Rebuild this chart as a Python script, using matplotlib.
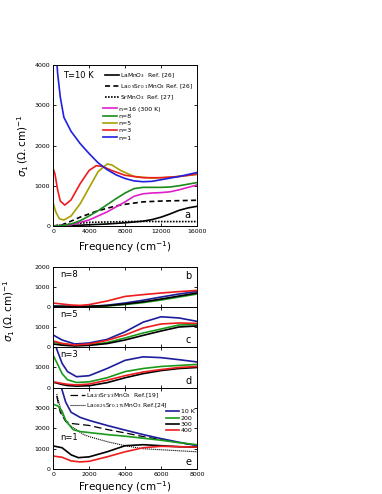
import numpy as np
import matplotlib.pyplot as plt

# ---- panel a: T = 10 K, 0-16000 cm-1
fa_n1 = [300, 500, 800, 1200, 2000, 3000, 4000, 5000, 6000, 7000, 8000, 9000, 10000, 11000, 12000, 13000, 14000, 15000, 16000]
sa_n1 = [4500, 3800, 3200, 2700, 2350, 2050, 1800, 1570, 1400, 1270, 1180, 1120, 1100, 1110, 1150, 1190, 1230, 1280, 1330]
fa_n3 = [0, 200, 500, 800, 1300, 2000, 3000, 4000, 4800, 5500, 6500, 8000, 10000, 12000, 14000, 16000]
sa_n3 = [1430, 1300, 900, 620, 520, 650, 1050, 1380, 1500, 1480, 1380, 1260, 1200, 1200, 1230, 1290]
fa_n5 = [0, 300, 700, 1200, 2000, 3000, 4000, 5000, 6000, 6500, 7500, 9000, 11000, 13000, 16000]
sa_n5 = [580, 350, 180, 150, 250, 550, 950, 1350, 1540, 1520, 1380, 1230, 1190, 1210, 1280]
fa_n8 = [0, 1000, 2000, 3000, 4000, 5000, 6000, 7000, 8000, 9000, 10000, 12000, 13000, 14000, 15000, 16000]
sa_n8 = [0, 10, 50, 130, 250, 380, 530, 680, 820, 930, 960, 960, 970, 1000, 1040, 1080]
fa_n16 = [0, 2000, 4000, 6000, 8000, 9000, 10000, 11000, 12000, 13000, 14000, 15000, 16000]
sa_n16 = [0, 30, 150, 350, 600, 740, 800, 820, 830, 850, 900, 960, 1020]
fa_lmo = [0, 2000, 4000, 6000, 8000, 10000, 11000, 12000, 13000, 14000, 15000, 16000]
sa_lmo = [0, 10, 30, 50, 80, 120, 160, 220, 300, 390, 450, 490]
fa_lsmo = [0, 1000, 2000, 3000, 4000, 5000, 6000, 7000, 8000, 9000, 10000, 12000, 14000, 16000]
sa_lsmo = [0, 30, 120, 220, 300, 380, 440, 500, 540, 570, 600, 620, 630, 640]
fa_smo = [0, 2000, 4000, 6000, 8000, 10000, 12000, 16000]
sa_smo = [0, 50, 90, 100, 110, 115, 110, 110]

# ---- panels b-e: temperature dependence, 0-8000 cm-1
temps = ["10 K", "200", "300", "400"]
tcolors = ["#1c1c9c", "#1a9a1a", "black", "#ee1c1c"]

fb = [0, 1000, 1500, 2000, 3000, 4000, 5000, 6000, 7000, 8000]
sb = {
    "10 K": [50, 30, 30, 30, 90, 200, 340, 500, 650, 780],
    "200": [20, 15, 15, 20, 50, 120, 220, 350, 500, 650],
    "300": [30, 25, 25, 30, 70, 150, 260, 400, 550, 700],
    "400": [200, 100, 80, 120, 300, 530, 620, 700, 770, 830],
}
fc = [0, 500, 1200, 2000, 3000, 4000, 5000, 6000, 7000, 8000]
sc = {
    "10 K": [600, 350, 150, 200, 380, 760, 1240, 1510, 1450, 1280],
    "200": [250, 150, 80, 110, 220, 450, 700, 900, 1100, 1120],
    "300": [150, 90, 50, 80, 170, 350, 580, 800, 1000, 1050],
    "400": [300, 180, 100, 150, 330, 600, 950, 1150, 1200, 1180],
}
fd = [0, 200, 500, 800, 1300, 2000, 3000, 4000, 5000, 6000, 7000, 8000]
sd = {
    "10 K": [2400, 1900, 1200, 800, 550, 600, 950, 1350, 1520, 1480, 1380, 1270],
    "200": [1600, 1250, 700, 400, 270, 300, 500, 800, 950, 1050, 1100, 1150],
    "300": [280, 240, 170, 120, 90, 110, 260, 500, 700, 850, 950, 1000],
    "400": [300, 270, 220, 180, 150, 190, 380, 600, 780, 900, 1000, 1050],
}
fe = {
    "10 K": [400, 500, 700, 1000, 1500, 2000, 3000, 4000, 5000, 6000, 7000, 8000],
    "200": [0, 300, 500, 700, 1100, 1500, 2000, 3000, 4000, 5000, 6000, 7000, 8000],
    "300": [0, 500, 1000, 1400, 2000, 3000, 4000, 5000, 6000, 7000, 8000],
    "400": [0, 500, 1000, 1500, 2000, 3000, 4000, 5000, 6000, 7000, 8000],
}
se = {
    "10 K": [4200, 3900, 3300, 2800, 2550, 2400, 2150, 1920, 1700, 1500, 1320, 1150],
    "200": [3200, 3100, 2850, 2400, 1950, 1850, 1800, 1700, 1620, 1520, 1420, 1300, 1200],
    "300": [1140, 1050, 700, 560, 600, 850, 1150, 1200, 1150, 1100, 1080],
    "400": [640, 580, 400, 350, 380, 600, 850, 1050, 1120, 1100, 1080],
}
fe_ref19 = [200, 400, 700, 1000, 2000, 3000, 4000, 5000, 6000, 7000, 8000]
se_ref19 = [3600, 2800, 2350, 2250, 2150, 1950, 1780, 1600, 1450, 1300, 1150]
fe_ref24 = [200, 500, 800, 1100, 1700, 2000, 3000, 4000, 5000, 6000, 7000, 8000]
se_ref24 = [3700, 2700, 2250, 2050, 1700, 1600, 1350, 1150, 1000, 950, 900, 850]

plt.rcParams['font.family'] = ['DejaVu Sans']
fig = plt.figure(figsize=(3.82, 4.94), dpi=100)
L, W = 0.139, 0.377

def style(ax):
    ax.tick_params(direction="in", top=True, right=True, labelsize=4.5, length=2.5, width=0.6, pad=2)
    for s in ax.spines.values():
        s.set_linewidth(0.7)

ylab = r"$\sigma_1\,(\Omega.\mathrm{cm})^{-1}$"

# panel a
ax = fig.add_axes([L, 0.5425, W, 0.3259])
ax.plot(fa_lmo, sa_lmo, color="black", lw=1.2, label=r"LaMnO$_3$  Ref. [26]")
ax.plot(fa_lsmo, sa_lsmo, color="black", lw=1.2, ls=(0, (3, 2)), label=r"La$_{0.9}$Sr$_{0.1}$MnO$_3$ Ref. [26]")
ax.plot(fa_smo, sa_smo, color="black", lw=1.2, ls=(0, (1, 0.8)), label=r"SrMnO$_3$  Ref. [27]")
leg1 = ax.legend(loc="upper right", bbox_to_anchor=(1.0, 0.985), fontsize=4.3, frameon=False,
                 handlelength=2.2, handletextpad=0.3, labelspacing=0.35, borderaxespad=0.2)
ax.add_artist(leg1)
h = []
h += ax.plot(fa_n16, sa_n16, color="#e020c8", lw=1.2, label="n=16 (300 K)")
h += ax.plot(fa_n8, sa_n8, color="#1a8a1a", lw=1.2, label="n=8")
h += ax.plot(fa_n5, sa_n5, color="#a8a000", lw=1.2, label="n=5")
h += ax.plot(fa_n3, sa_n3, color="#ee1c1c", lw=1.2, label="n=3")
h += ax.plot(fa_n1, sa_n1, color="#2020e0", lw=1.2, label="n=1")
ax.legend(handles=h, loc="upper left", bbox_to_anchor=(0.33, 0.76), fontsize=4.5, frameon=False,
          handlelength=2.2, handletextpad=0.3, labelspacing=0.3, borderaxespad=0)
ax.set_xlim(0, 16000)
ax.set_ylim(0, 4000)
ax.set_xticks([0, 4000, 8000, 12000, 16000])
ax.set_yticks([0, 1000, 2000, 3000, 4000])
ax.text(0.07, 0.92, "T=10 K", transform=ax.transAxes, fontsize=6)
ax.text(0.955, 0.04, "a", transform=ax.transAxes, fontsize=7, ha="right", va="bottom")
ax.set_xlabel(r"Frequency (cm$^{-1}$)", fontsize=7.5, labelpad=4)
ax.set_ylabel(ylab, fontsize=7.5, labelpad=3)
style(ax)

# panels b-e
rows = [(0.3785, 0.081, "n=8", "b", fb, sb), (0.2976, 0.081, "n=5", "c", fc, sc),
        (0.2146, 0.083, "n=3", "d", fd, sd)]
for bottom, hgt, ntext, tag, f, s in rows:
    ax = fig.add_axes([L, bottom, W, hgt])
    for t, c in zip(temps, tcolors):
        ax.plot(f, s[t], color=c, lw=1.2)
    ax.set_xlim(0, 8000)
    ax.set_ylim(0, 2000)
    ax.set_yticks([0, 1000, 2000] if tag == "b" else [0, 1000])
    ax.set_xticks([0, 2000, 4000, 6000, 8000])
    ax.tick_params(labelbottom=False)
    ax.text(0.05, 0.93, ntext, transform=ax.transAxes, fontsize=6, va="top")
    if tag == "b":
        ax.text(0.96, 0.9, tag, transform=ax.transAxes, fontsize=7, ha="right", va="top")
    else:
        ax.text(0.96, 0.05, tag, transform=ax.transAxes, fontsize=7, ha="right", va="bottom")
    style(ax)

ax = fig.add_axes([L, 0.0506, W, 0.164])
r1, = ax.plot(fe_ref19, se_ref19, color="black", lw=0.9, ls=(0, (6, 3)),
              label=r"La$_{2/3}$Sr$_{1/3}$MnO$_3$  Ref.[19]")
r2, = ax.plot(fe_ref24, se_ref24, color="black", lw=0.8, ls=(0, (1, 0.8)),
              label=r"La$_{0.825}$Sr$_{0.175}$MnO$_3$ Ref.[24]")
th = []
for t, c in zip(temps, tcolors):
    th += ax.plot(fe[t], se[t], color=c, lw=1.2, label=t)
leg2 = ax.legend(handles=[r1, r2], loc="upper left", bbox_to_anchor=(0.09, 1.0), fontsize=4.3,
                 frameon=False, handlelength=2.5, handletextpad=0.3, labelspacing=0.2, borderaxespad=0.2)
ax.add_artist(leg2)
ax.legend(handles=th, loc="upper right", bbox_to_anchor=(1.0, 0.77), fontsize=4.5, frameon=False,
          handlelength=2.0, handletextpad=0.3, labelspacing=0.15, borderaxespad=0)
ax.set_xlim(0, 8000)
ax.set_ylim(0, 4000)
ax.set_xticks([0, 2000, 4000, 6000, 8000])
ax.set_yticks([0, 1000, 2000, 3000])
ax.text(0.05, 0.36, "n=1", transform=ax.transAxes, fontsize=6)
ax.text(0.96, 0.03, "e", transform=ax.transAxes, fontsize=7, ha="right", va="bottom")
ax.set_xlabel(r"Frequency (cm$^{-1}$)", fontsize=7.5, labelpad=2)
style(ax)

fig.text(0.025, 0.37, ylab, rotation=90, fontsize=7.5, ha="center", va="center")

fig.savefig("out.png", dpi=100)
